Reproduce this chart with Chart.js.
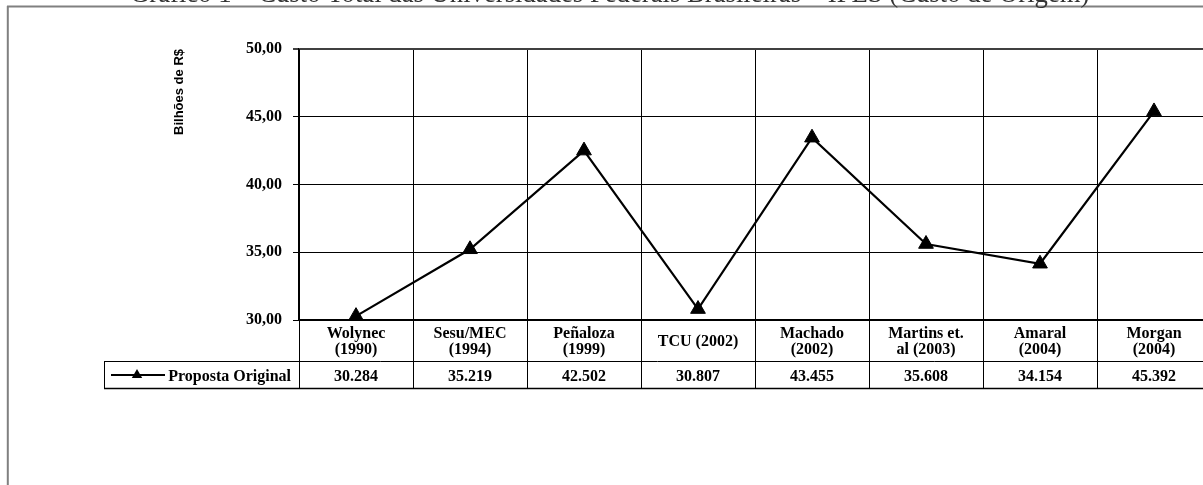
<!DOCTYPE html>
<html><head><meta charset="utf-8">
<script src="https://cdn.jsdelivr.net/npm/chart.js@4.4.1/dist/chart.umd.min.js"></script>
<style>html,body{margin:0;padding:0;background:#fff;overflow:hidden;width:1203px;height:485px}canvas{display:block}</style>
</head><body><canvas id="c" width="1230" height="485"></canvas>
<script>
const titleText = "Gráfico 1 – Custo Total das Universidades Federais Brasileiras – IFES (Custo de Origem)";
const categories = [["Wolynec","(1990)"],["Sesu/MEC","(1994)"],["Peñaloza","(1999)"],"TCU (2002)",["Machado","(2002)"],["Martins et.","al (2003)"],["Amaral","(2004)"],["Morgan","(2004)"]];
const seriesName = "Proposta Original";
const values = [30.284,35.219,42.502,30.807,43.455,35.608,34.154,45.392];
const yTicks = [30,35,40,45,50];
const yTitle = "Bilhões de R$";

const SERIF = '"Liberation Serif", "Times New Roman", serif';
const SANS = '"Liberation Sans", Arial, sans-serif';

function tri(ctx, cx, cy, r){
  ctx.beginPath();
  for (let k=0;k<3;k++){
    const a = -Math.PI/2 + k*2*Math.PI/3;
    const px = cx + Math.cos(a)*r, py = cy + Math.sin(a)*r;
    if(k===0) ctx.moveTo(px,py); else ctx.lineTo(px,py);
  }
  ctx.closePath(); ctx.fill();
}

const decor = {
  id:'decor',
  beforeDraw(chart){
    const ctx = chart.ctx;
    ctx.save();
    ctx.fillStyle='#fff'; ctx.fillRect(0,0,chart.width,chart.height);
    ctx.strokeStyle='#808080'; ctx.lineWidth=2;
    ctx.beginPath();
    ctx.moveTo(7,6.5); ctx.lineTo(chart.width,6.5);
    ctx.moveTo(7.8,6); ctx.lineTo(7.8,chart.height);
    ctx.stroke();
    // title (clipped at top in the reference)
    ctx.fillStyle='#333';
    let fs = 20;
    ctx.font = fs+'px '+SERIF;
    const w = ctx.measureText(titleText).width;
    fs = fs*960/w;
    ctx.font = fs+'px '+SERIF;
    ctx.textBaseline='alphabetic'; ctx.textAlign='left';
    ctx.fillText(titleText,130,1.5);
    ctx.restore();
  },
  afterDraw(chart){
    const {ctx, chartArea:a, scales:{x}} = chart;
    const n = values.length;
    const top=361, bot=388, left=104, rowMid=375;
    const bounds=[a.left];
    for(let i=1;i<n;i++) bounds.push((x.getPixelForValue(i-1)+x.getPixelForValue(i))/2);
    bounds.push(a.right);
    ctx.save();
    ctx.strokeStyle='#000'; ctx.lineWidth=1;
    ctx.beginPath();
    bounds.forEach(b=>{const px=Math.round(b)+0.5; ctx.moveTo(px,a.bottom); ctx.lineTo(px,bot);});
    ctx.moveTo(left,top+0.5); ctx.lineTo(a.right,top+0.5);
    ctx.moveTo(left+0.5,top); ctx.lineTo(left+0.5,bot+1);
    ctx.stroke();
    ctx.lineWidth=1.5;
    ctx.beginPath(); ctx.moveTo(left,bot+0.5); ctx.lineTo(a.right,bot+0.5); ctx.stroke();
    ctx.fillStyle='#000';
    ctx.font='bold 16px '+SERIF;
    ctx.textBaseline='middle'; ctx.textAlign='center';
    values.forEach((v,i)=>ctx.fillText(v.toFixed(3), x.getPixelForValue(i), rowMid+1.5));
    // legend key
    ctx.lineWidth=2;
    ctx.beginPath(); ctx.moveTo(111,rowMid); ctx.lineTo(165,rowMid); ctx.stroke();
    tri(ctx,137,rowMid,6);
    ctx.textAlign='right';
    ctx.fillText(seriesName,291,rowMid+1.5);
    ctx.restore();
  }
};

new Chart(document.getElementById('c'),{
  type:'line',
  data:{labels:categories,datasets:[{
    label:seriesName,data:values,
    borderColor:'#000',borderWidth:2.2,tension:0,
    pointStyle:'triangle',pointRadius:8.5,pointBackgroundColor:'#000',pointBorderColor:'#000',pointBorderWidth:1,
    clip:false
  }]},
  options:{
    responsive:false,animation:false,
    layout:{padding:{top:49,right:19,left:0,bottom:0}},
    plugins:{legend:{display:false},tooltip:{enabled:false}},
    scales:{
      x:{type:'category',offset:true,
        grid:{offset:true,color:'#000',lineWidth:1,drawTicks:false},
        border:{color:'#000',width:1.5},
        ticks:{color:'#000',font:{family:SERIF,size:16,weight:'bold',lineHeight:1.05},padding:13.5,crossAlign:'center',maxRotation:0,autoSkip:false},
        afterFit(s){s.height=165;}
      },
      y:{min:30,max:50,
        afterBuildTicks(s){s.ticks=yTicks.map(v=>({value:v}));},
        grid:{color:c=>(c.tick&&c.tick.value===50)?'#404040':'#000',lineWidth:c=>(c.tick&&c.tick.value===50)?2:1,tickLength:6},
        border:{color:'#000',width:1.5},
        ticks:{color:'#000',font:{family:SERIF,size:16,weight:'bold'},padding:11,callback:v=>Number(v).toFixed(2).replace('.',',')},
        title:{display:true,text:yTitle,align:'end',color:'#000',font:{family:SANS,size:13,weight:'bold'},padding:{top:172,bottom:0}},
        afterFit(s){s.width=299;}
      }
    }
  },
  plugins:[decor]
});
</script>
</body></html>
